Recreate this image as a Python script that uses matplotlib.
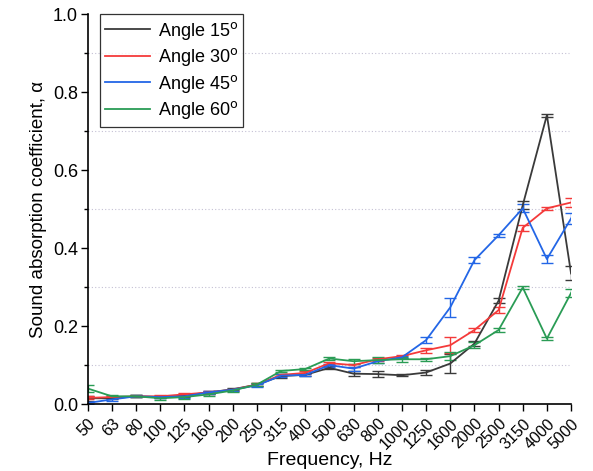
import matplotlib
matplotlib.use("Agg")
import matplotlib.pyplot as plt
from matplotlib.ticker import MultipleLocator
from matplotlib.lines import Line2D
import numpy as np

plt.rcParams['font.family'] = ['Liberation Sans', 'DejaVu Sans']

# frequency bands (Hz)
freqs = ['50', '63', '80', '100', '125', '160', '200', '250', '315', '400', '500',
         '630', '800', '1000', '1250', '1600', '2000', '2500', '3150', '4000', '5000']

# absorption coefficients per incidence angle
a15 = [0.015, 0.015, 0.020, 0.018, 0.022, 0.030, 0.038, 0.050, 0.072, 0.075, 0.093,
       0.078, 0.077, 0.074, 0.081, 0.104, 0.155, 0.265, 0.510, 0.741, 0.335]
a30 = [0.016, 0.018, 0.020, 0.020, 0.025, 0.030, 0.037, 0.050, 0.075, 0.080, 0.105,
       0.100, 0.115, 0.123, 0.138, 0.151, 0.190, 0.241, 0.452, 0.502, 0.517]
a45 = [0.003, 0.012, 0.020, 0.018, 0.020, 0.030, 0.037, 0.048, 0.073, 0.075, 0.100,
       0.091, 0.110, 0.120, 0.164, 0.248, 0.369, 0.433, 0.502, 0.372, 0.476]
a60 = [0.040, 0.020, 0.020, 0.015, 0.018, 0.025, 0.035, 0.050, 0.085, 0.090, 0.117,
       0.110, 0.113, 0.115, 0.115, 0.123, 0.151, 0.190, 0.299, 0.168, 0.285]

# standard deviations
e15 = [0.006, 0.003, 0.003, 0.003, 0.003, 0.004, 0.003, 0.003, 0.004, 0.004, 0.004,
       0.006, 0.008, 0.003, 0.006, 0.025, 0.006, 0.006, 0.010, 0.004, 0.018]
e30 = [0.004, 0.003, 0.003, 0.003, 0.004, 0.004, 0.003, 0.003, 0.003, 0.004, 0.004,
       0.004, 0.004, 0.004, 0.006, 0.020, 0.006, 0.008, 0.008, 0.004, 0.012]
e45 = [0.003, 0.003, 0.003, 0.003, 0.004, 0.004, 0.003, 0.003, 0.003, 0.003, 0.004,
       0.005, 0.004, 0.003, 0.008, 0.025, 0.008, 0.004, 0.010, 0.010, 0.015]
e60 = [0.008, 0.003, 0.003, 0.004, 0.004, 0.004, 0.003, 0.003, 0.003, 0.003, 0.004,
       0.006, 0.008, 0.006, 0.004, 0.010, 0.008, 0.005, 0.004, 0.003, 0.010]

series = [
    (a15, e15, '#3a3a3a', 'Angle 15$^{\\rm o}$'),
    (a30, e30, '#f43a3a', 'Angle 30$^{\\rm o}$'),
    (a45, e45, '#2366e6', 'Angle 45$^{\\rm o}$'),
    (a60, e60, '#2a9c55', 'Angle 60$^{\\rm o}$'),
]

fig = plt.figure(figsize=(5.93, 4.71), dpi=100)
ax = fig.add_axes([0.148, 0.142, 0.815, 0.828])

x = np.arange(len(freqs))
handles = []
for vals, errs, col, lab in series:
    ax.errorbar(x, vals, yerr=errs, color=col, lw=1.3, capsize=4,
                elinewidth=1.0, capthick=1.0)
    handles.append(Line2D([], [], color=col, lw=1.3, label=lab))

ax.set_xlim(0, len(freqs) - 1)
ax.set_ylim(0, 1.0)
ax.set_xticks(x)
ax.set_xticklabels(freqs, rotation=45, ha='right', rotation_mode='anchor', fontsize=11.5)
ax.yaxis.set_minor_locator(MultipleLocator(0.1))
ax.set_yticks([0.0, 0.2, 0.4, 0.6, 0.8, 1.0])
ax.set_yticklabels(['0.0', '0.2', '0.4', '0.6', '0.8', '1.0'], fontsize=13)
ax.tick_params(axis='both', which='major', direction='out', length=5, width=1)
ax.tick_params(axis='y', which='minor', direction='out', length=3, width=1)
ax.tick_params(axis='y', which='major', pad=2)

# dotted grid on odd tenths
for yv in [0.1, 0.3, 0.5, 0.7, 0.9]:
    ax.axhline(yv, xmin=0, xmax=0.995, color='#c4c0d4', lw=0.8, ls=(0, (1, 2)), zorder=0)

for s in ['top', 'right']:
    ax.spines[s].set_visible(False)
for s in ['left', 'bottom']:
    ax.spines[s].set_linewidth(1.2)

ax.set_xlabel('Frequency, Hz', fontsize=14, labelpad=0)
ax.set_ylabel('Sound absorption coefficient, α', fontsize=13.5, labelpad=4)

leg = ax.legend(handles=handles, loc='upper left', bbox_to_anchor=(0.025, 1.0),
                fontsize=13, frameon=True, fancybox=False, handlelength=2.5,
                handletextpad=0.4, labelspacing=0.25, borderpad=0.3, borderaxespad=0)
leg.get_frame().set_edgecolor('black')
leg.get_frame().set_linewidth(0.9)

fig.savefig('out.png', dpi=100)
